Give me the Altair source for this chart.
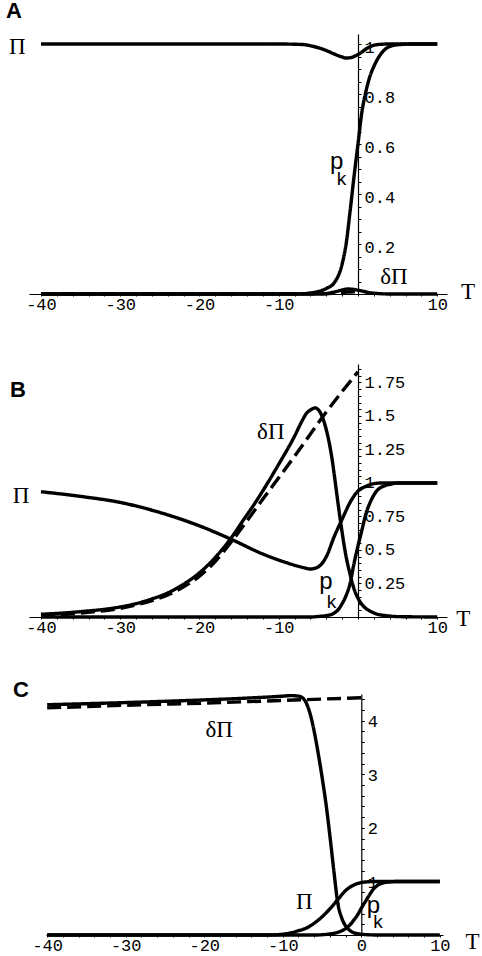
import altair as alt
import pandas as pd

# ---------------- Panel A ----------------
A_PI_T = [-40, -10, -7, -6, -5, -4, -3, -2, -1.5, -1, -0.5, 0, 0.5, 1, 1.5, 2, 3, 4, 10]
A_PI_V = [1, 1, 0.998, 0.993, 0.985, 0.974, 0.96, 0.948, 0.944, 0.945, 0.95, 0.958,
          0.968, 0.98, 0.989, 0.995, 0.999, 1, 1]
A_PK_T = [-40, -8, -6, -5, -4, -3, -2, -1.5, -1, -0.5, 0, 0.5, 1, 1.5, 2, 3, 4, 5, 7, 10]
A_PK_V = [0, 0, 0.004, 0.01, 0.022, 0.045, 0.12, 0.2, 0.33, 0.47, 0.6, 0.73, 0.81,
          0.87, 0.91, 0.965, 0.99, 0.997, 1, 1]
A_DPI_T = [-40, -5, -4, -3, -2, -1.25, -0.5, 0.5, 1.5, 2.5, 4, 10]
A_DPI_V = [0, 0, 0.002, 0.008, 0.016, 0.02, 0.018, 0.012, 0.005, 0.002, 0, 0]
A_APX_T = [-40, -4, -3, -2, -1, 0]
A_APX_V = [0, 0.001, 0.003, 0.006, 0.008, 0.01]

# ---------------- Panel B ----------------
B_PI_T = [-40, -35, -30, -25, -20, -16, -12, -9, -7, -6, -5, -4, -3, -2, -1, 0, 1, 2, 3, 10]
B_PI_V = [0.935, 0.9, 0.855, 0.78, 0.68, 0.58, 0.47, 0.405, 0.37, 0.358, 0.375, 0.45,
          0.6, 0.73, 0.855, 0.94, 0.975, 0.995, 1, 1]
B_PK_T = [-40, -6, -5, -4, -3, -2.5, -2, -1.5, -1, -0.5, 0, 0.5, 1, 1.5, 2, 2.5, 3, 4, 5, 10]
B_PK_V = [0, 0, 0.004, 0.01, 0.03, 0.055, 0.1, 0.16, 0.25, 0.4, 0.53, 0.65, 0.77, 0.85,
          0.91, 0.95, 0.97, 0.99, 1, 1]
B_DPI_T = [-40, -35, -30, -28, -26, -24, -22, -20, -18, -16, -14.5, -13, -10, -8, -7,
           -6.5, -6, -5.4, -4.8, -4.2, -3.7, -3.3, -2.9, -2.5, -2, -1.5, -1, -0.5, 0,
           0.7, 1.5, 2.5, 3.6, 5, 10]
B_DPI_V = [0.02, 0.04, 0.075, 0.1, 0.135, 0.18, 0.245, 0.33, 0.445, 0.59, 0.72, 0.85,
           1.14, 1.35, 1.47, 1.52, 1.545, 1.56, 1.53, 1.44, 1.32, 1.19, 1.02, 0.84, 0.63,
           0.45, 0.32, 0.21, 0.14, 0.08, 0.045, 0.02, 0.01, 0.003, 0]
B_APX_T = [-40, -35, -30, -28, -26, -24, -22, -20, -18, -16, -12, -8, -4, 0]
B_APX_V = [0.01, 0.03, 0.065, 0.09, 0.122, 0.165, 0.225, 0.305, 0.415, 0.56, 0.88, 1.2,
           1.53, 1.83]

# ---------------- Panel C ----------------
C_PI_T = [-40, -12, -10, -9, -8, -7, -6, -5, -4, -3, -2, -1, 0, 1, 2, 10]
C_PI_V = [0, 0, 0.015, 0.04, 0.08, 0.13, 0.22, 0.34, 0.49, 0.66, 0.83, 0.93, 0.98, 0.995, 1, 1]
C_PK_T = [-40, -6, -5, -4, -3, -2, -1.5, -1, -0.5, 0, 0.5, 1, 1.5, 2, 3, 4, 5, 10]
C_PK_V = [0, 0, 0.005, 0.02, 0.05, 0.12, 0.18, 0.27, 0.37, 0.5, 0.62, 0.74, 0.85, 0.92,
          0.98, 0.995, 1, 1]
C_DPI_T = [-40, -30, -20, -15, -10, -9, -8, -7.5, -7, -6.5, -6, -5.5, -5, -4.5, -4, -3.5,
           -3, -2.5, -2, -1.5, -1, 0, 1, 2, 10]
C_DPI_V = [4.3, 4.34, 4.39, 4.42, 4.46, 4.47, 4.46, 4.43, 4.33, 4.12, 3.8, 3.4, 2.95,
           2.45, 1.85, 1.2, 0.6, 0.32, 0.17, 0.09, 0.045, 0.015, 0.004, 0, 0]
C_APX_T = [-40, -30, -20, -10, 0]
C_APX_V = [4.24, 4.29, 4.33, 4.38, 4.43]

# ---------------- tick labels ----------------
X_TICKS_AB = [-40, -30, -20, -10, 10]
X_LABELS_AB = ["-40", "-30", "-20", "-10", "10"]
X_TICKS_C = [-40, -30, -20, -10, 0, 10]
X_LABELS_C = ["-40", "-30", "-20", "-10", "0", "10"]
Y_TICKS_A = [0.2, 0.4, 0.6, 0.8, 1.0]
Y_LABELS_A = ["0.2", "0.4", "0.6", "0.8", "1"]
Y_TICKS_B = [0.25, 0.5, 0.75, 1.0, 1.25, 1.5, 1.75]
Y_LABELS_B = ["0.25", "0.5", "0.75", "1", "1.25", "1.5", "1.75"]
Y_TICKS_C = [1, 2, 3, 4]
Y_LABELS_C = ["1", "2", "3", "4"]

SERIES = ["Π", "p_k", "δΠ", "δΠ small", "δΠ approx"]
DASHES = [[1, 0], [1, 0], [1, 0], [1, 0], [14, 6]]
WIDTHS = [3.4, 3.4, 3.4, 2.2, 3.0]

MONO = "Liberation Mono, DejaVu Sans Mono, monospace"


def frame(*curves):
    rows = []
    for name, ts, vs in curves:
        for t, v in zip(ts, vs):
            rows.append({"series": name, "T": t, "v": v})
    return pd.DataFrame(rows)


def label_expr(vals, labs):
    parts = [f"abs(datum.value - ({v})) < 1e-6 ? '{s}'" for v, s in zip(vals, labs)]
    return " : ".join(parts) + " : ''"


def x_axis(major, labels):
    minor = list(range(-40, 11, 2))
    return alt.Axis(orient="bottom", values=minor, labelExpr=label_expr(major, labels),
                    title=None, grid=False, domainColor="black", domainWidth=1.2,
                    tickColor="black", tickSize=2, tickWidth=1,
                    labelFont=MONO, labelFontSize=17, labelColor="black",
                    labelPadding=0, labelOverlap=False, labelFlush=False,
                    labelBaseline="top")


def y_axis(minor, major, labels, offset, label_offset):
    return alt.Axis(orient="right", offset=offset, values=minor,
                    labelExpr=label_expr(major, labels), title=None, grid=False,
                    domainColor="black", domainWidth=1.2, tickColor="black", tickSize=3,
                    tickWidth=1, labelFont=MONO, labelFontSize=17,
                    labelColor="black", labelPadding=3, labelOverlap=False,
                    labelFlush=False, labelOffset=label_offset)


def panel(lines, serif, p_lab, k_lab, letter, xs, ys, xa, ya, width, height):
    X = alt.X("T:Q", scale=xs, axis=xa)
    Y = alt.Y("v:Q", scale=ys, axis=ya)
    curves = alt.Chart(lines).mark_line(
        interpolate="monotone", color="black", strokeCap="butt", strokeJoin="round"
    ).encode(
        x=X, y=Y, detail="series:N",
        strokeDash=alt.StrokeDash("series:N", scale=alt.Scale(domain=SERIES, range=DASHES),
                                  legend=None),
        strokeWidth=alt.StrokeWidth("series:N", scale=alt.Scale(domain=SERIES, range=WIDTHS),
                                    legend=None),
    )

    def text(df, **kw):
        return alt.Chart(df).mark_text(color="black", **kw).encode(x=X, y=Y, text="text:N")

    layers = [
        curves,
        text(serif, font="Liberation Serif", fontSize=23, align="center", baseline="alphabetic"),
        text(p_lab, font="Liberation Sans", fontSize=24, align="left", baseline="alphabetic"),
        text(k_lab, font="Liberation Sans", fontSize=19, align="left", baseline="alphabetic"),
        text(letter, font="Liberation Sans", fontSize=22, fontWeight="bold", align="left",
             baseline="top"),
    ]
    return alt.layer(*layers).properties(width=width, height=height)


def labels(items):
    return pd.DataFrame([{"text": s, "T": t, "v": v} for s, t, v in items])


W = 418
xs_ab = alt.Scale(domain=[-41.51, 11.23], nice=False, zero=False)
xs_c = alt.Scale(domain=[-40.15, 10.4], range=[17, 414], nice=False, zero=False)

chart_a = panel(
    frame(("Π", A_PI_T, A_PI_V), ("p_k", A_PK_T, A_PK_V), ("δΠ small", A_DPI_T, A_DPI_V),
          ("δΠ approx", A_APX_T, A_APX_V)),
    labels([("Π", -43.0, 0.959), ("δΠ", 4.54, 0.04), ("T", 13.88, -0.02)]),
    labels([("p", -3.53, 0.5)]),
    labels([("k", -2.69, 0.436)]),
    labels([("A", -44.41, 1.172)]),
    xs_ab, alt.Scale(domain=[0, 1.04], nice=False, zero=False),
    x_axis(X_TICKS_AB, X_LABELS_AB),
    y_axis([round(0.05 * i, 2) for i in range(1, 21)], Y_TICKS_A, Y_LABELS_A, -89, 3),
    W, 260,
)

chart_b = panel(
    frame(("Π", B_PI_T, B_PI_V), ("p_k", B_PK_T, B_PK_V), ("δΠ", B_DPI_T, B_DPI_V),
          ("δΠ approx", B_APX_T, B_APX_V)),
    labels([("Π", -42.5, 0.853), ("δΠ", -11.0, 1.326), ("T", 13.3, -0.067)]),
    labels([("p", -4.88, 0.207)]),
    labels([("k", -3.95, 0.07)]),
    labels([("B", -43.9, 1.77)]),
    xs_ab, alt.Scale(domain=[0, 1.888], nice=False, zero=False),
    x_axis(X_TICKS_AB, X_LABELS_AB),
    y_axis([round(0.05 * i, 2) for i in range(1, 38)], Y_TICKS_B, Y_LABELS_B, -89, 0),
    W, 253,
)

chart_c = panel(
    frame(("Π", C_PI_T, C_PI_V), ("p_k", C_PK_T, C_PK_V), ("δΠ", C_DPI_T, C_DPI_V),
          ("δΠ approx", C_APX_T, C_APX_V)),
    labels([("δΠ", -18.1, 3.69), ("Π", -7.27, 0.48), ("T", 14.16, -0.27)]),
    labels([("p", 0.69, 0.42)]),
    labels([("k", 1.53, 0.137)]),
    labels([("C", -44.35, 4.755)]),
    xs_c, alt.Scale(domain=[0, 4.5], range=[248, 7], nice=False, zero=False),
    x_axis(X_TICKS_C, X_LABELS_C),
    y_axis([round(0.2 * i, 1) for i in range(1, 23)], Y_TICKS_C, Y_LABELS_C, -85.7, 1),
    W, 248,
)

chart = alt.vconcat(chart_a, chart_b, chart_c, spacing=70, bounds="flush").properties(
    padding={"left": 6, "top": 0, "right": 0, "bottom": 0},
    background="white",
).configure_view(stroke=None)

chart.save("out.html", embed_options={"renderer": "svg", "actions": False})
